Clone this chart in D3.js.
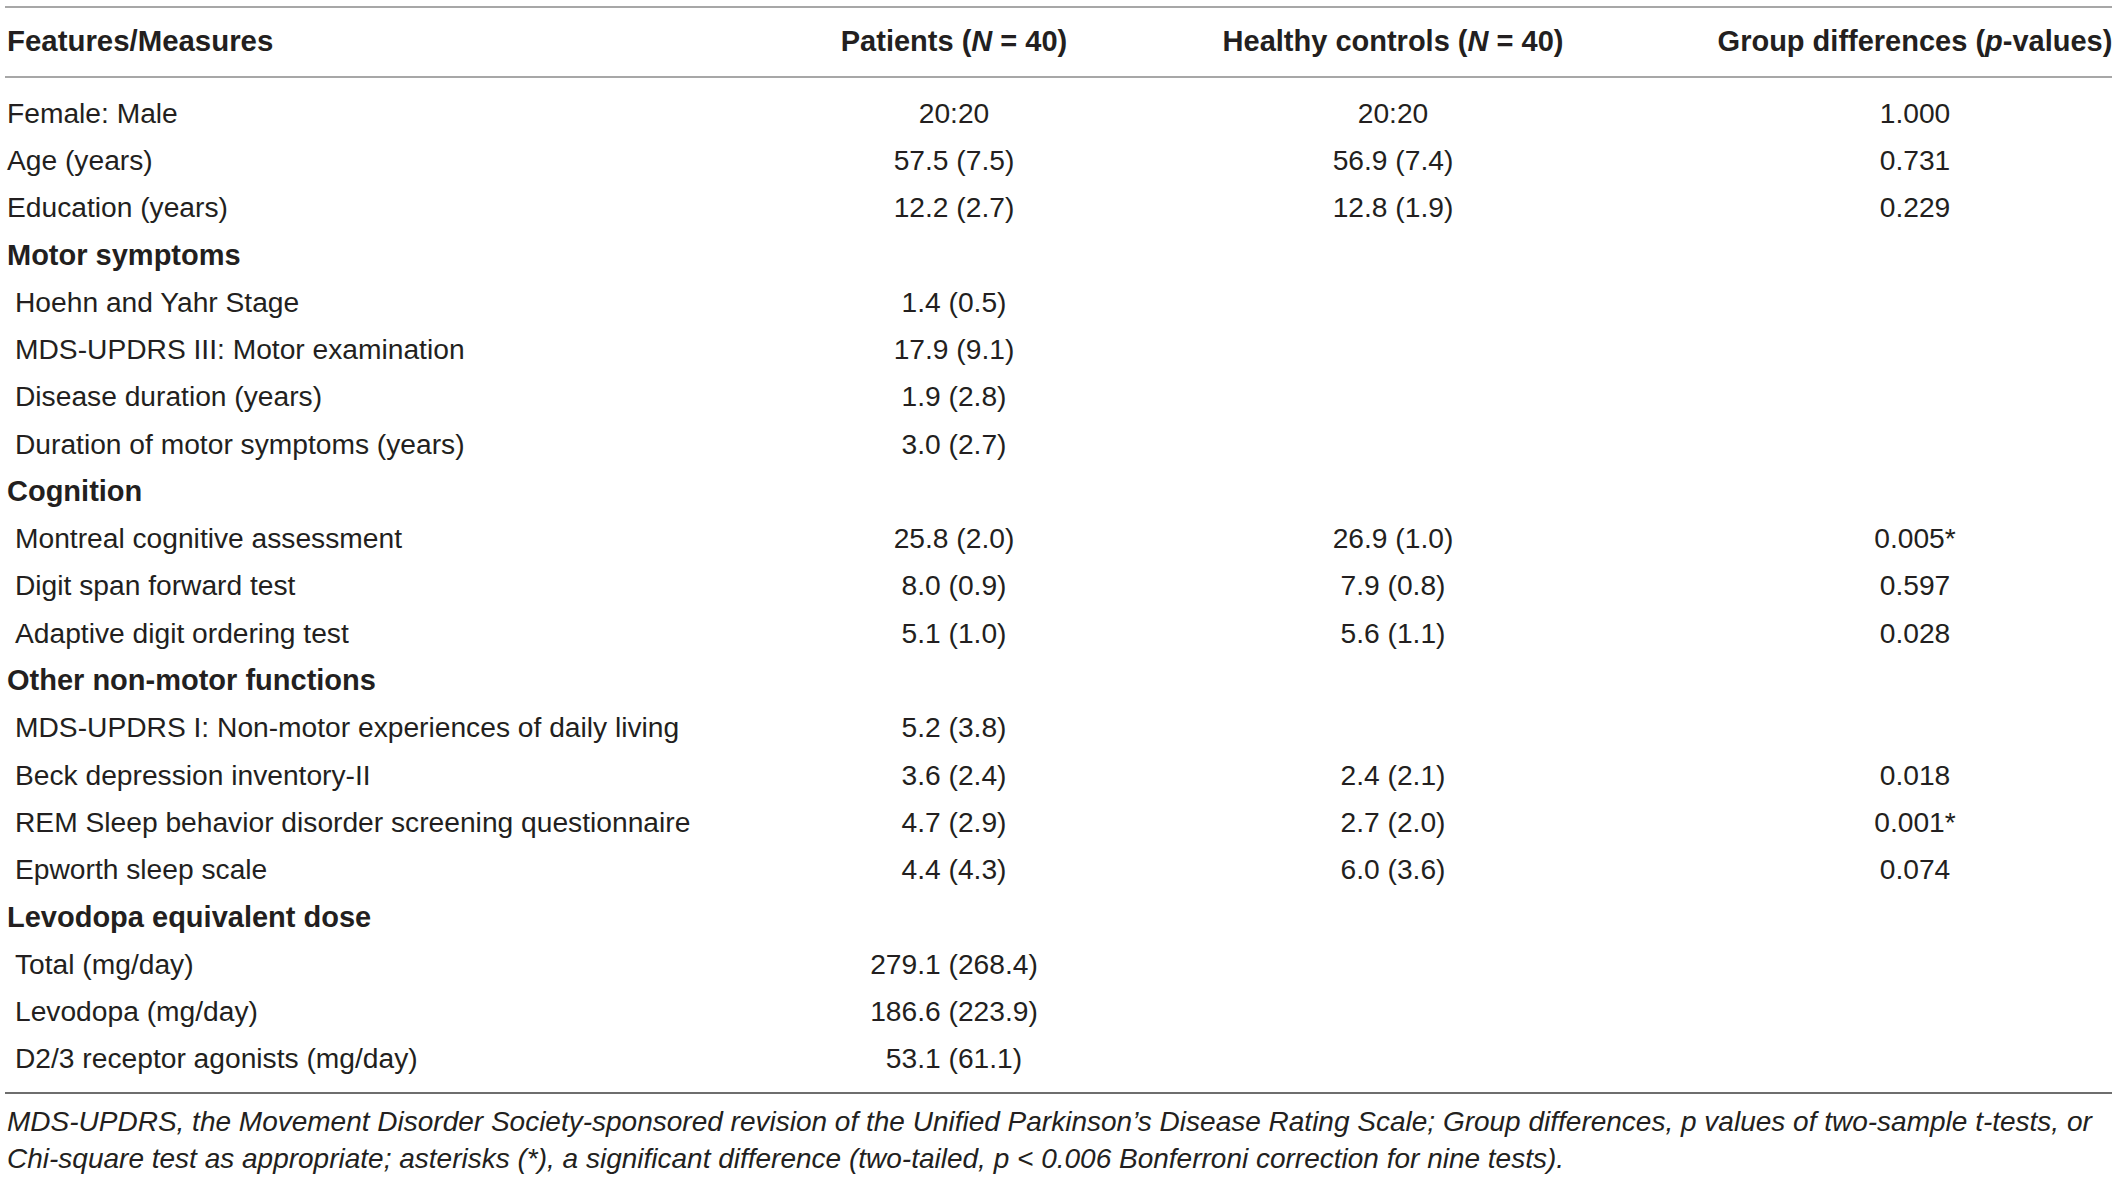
<!DOCTYPE html>
<html>
<head>
	<meta charset="utf-8">
	<script src="https://cdn.jsdelivr.net/npm/d3@7"></script>
	<style>
		body { margin: 0; background: #fff; }
		text { font-family: "Liberation Sans", Arial, sans-serif; fill: #231f20; }
	</style>
</head>
<body>
<div id="table"></div>

<script>

// header cells: [plain part, italic part, tail]
var headerCols = [
  ["Patients (", "N", " = 40)"],
  ["Healthy controls (", "N", " = 40)"],
  ["Group differences (", "p", "-values)"]
];

var measures = [
  "Female: Male", "Age (years)", "Education (years)",
  "Motor symptoms",
  "Hoehn and Yahr Stage", "MDS-UPDRS III: Motor examination", "Disease duration (years)", "Duration of motor symptoms (years)",
  "Cognition",
  "Montreal cognitive assessment", "Digit span forward test", "Adaptive digit ordering test",
  "Other non-motor functions",
  "MDS-UPDRS I: Non-motor experiences of daily living", "Beck depression inventory-II",
  "REM Sleep behavior disorder screening questionnaire", "Epworth sleep scale",
  "Levodopa equivalent dose",
  "Total (mg/day)", "Levodopa (mg/day)", "D2/3 receptor agonists (mg/day)"
];

// 0 = plain row, 1 = section title, 2 = indented sub row
var rowKind = [0,0,0, 1, 2,2,2,2, 1, 2,2,2, 1, 2,2,2,2, 1, 2,2,2];

var patients = ["20:20","57.5 (7.5)","12.2 (2.7)", "",
  "1.4 (0.5)","17.9 (9.1)","1.9 (2.8)","3.0 (2.7)", "",
  "25.8 (2.0)","8.0 (0.9)","5.1 (1.0)", "",
  "5.2 (3.8)","3.6 (2.4)","4.7 (2.9)","4.4 (4.3)", "",
  "279.1 (268.4)","186.6 (223.9)","53.1 (61.1)"];

var controls = ["20:20","56.9 (7.4)","12.8 (1.9)", "",
  "","","","", "",
  "26.9 (1.0)","7.9 (0.8)","5.6 (1.1)", "",
  "","2.4 (2.1)","2.7 (2.0)","6.0 (3.6)", "",
  "","",""];

var pvalues = ["1.000","0.731","0.229", "",
  "","","","", "",
  "0.005*","0.597","0.028", "",
  "","0.018","0.001*","0.074", "",
  "","",""];

var footnote = [
  "MDS-UPDRS, the Movement Disorder Society-sponsored revision of the Unified Parkinson\u2019s Disease Rating Scale; Group differences, p values of two-sample t-tests, or",
  "Chi-square test as appropriate; asterisks (*), a significant difference (two-tailed, p < 0.006 Bonferroni correction for nine tests)."
];

var width = 2119, height = 1180;

var svg = d3.select("#table")
  .append("svg")
  .attr("width", width)
  .attr("height", height);

var colX = d3.scaleOrdinal()
  .domain([0, 1, 2])
  .range([954, 1393, 1915]);

var rowY = d3.scaleBand()
  .domain(d3.range(measures.length))
  .range([89, 1082]);

var headY = 41;
var x0 = 7, xIndent = 15, xEnd = 2112;
var bodySize = "28.2px", boldSize = "29.4px";

// rules
svg.selectAll(".rule")
  .data([{y: 7, c: "#a7a7a7"}, {y: 77, c: "#a7a7a7"}, {y: 1093, c: "#6e6e6e"}])
  .enter()
  .append("line")
  .attr("class", "rule")
  .attr("x1", 5)
  .attr("x2", xEnd)
  .attr("y1", function(d) { return d.y; })
  .attr("y2", function(d) { return d.y; })
  .style("stroke", function(d) { return d.c; })
  .style("stroke-width", 2);

// header
svg.append("text")
  .attr("x", x0)
  .attr("y", headY)
  .attr("dy", "0.35em")
  .style("font-size", boldSize)
  .style("font-weight", "bold")
  .text("Features/Measures");

var head = svg.selectAll(".head")
  .data(headerCols)
  .enter()
  .append("text")
  .attr("class", "head")
  .attr("x", function(d, i) { return colX(i); })
  .attr("y", headY)
  .attr("dy", "0.35em")
  .attr("text-anchor", "middle")
  .style("font-size", "29px")
  .style("font-weight", "bold");

head.append("tspan").text(function(d) { return d[0]; });
head.append("tspan").style("font-style", "italic").text(function(d) { return d[1]; });
head.append("tspan").text(function(d) { return d[2]; });

// first column
svg.selectAll(".measure")
  .data(measures)
  .enter()
  .append("text")
  .attr("class", "measure")
  .attr("x", function(d, i) { return rowKind[i] == 2 ? xIndent : x0; })
  .attr("y", function(d, i) { return rowY(i) + rowY.bandwidth() / 2; })
  .attr("dy", "0.35em")
  .style("font-size", function(d, i) { return rowKind[i] == 1 ? "29px" : bodySize; })
  .style("font-weight", function(d, i) { return rowKind[i] == 1 ? "bold" : "normal"; })
  .text(function(d) { return d; });

// value columns
[patients, controls, pvalues].forEach(function(col, c) {
  svg.selectAll(".val" + c)
    .data(col)
    .enter()
    .append("text")
    .attr("class", "val" + c)
    .attr("x", colX(c))
    .attr("y", function(d, i) { return rowY(i) + rowY.bandwidth() / 2; })
    .attr("dy", "0.35em")
    .attr("text-anchor", "middle")
    .style("font-size", bodySize)
    .text(function(d) { return d; });
});

// footnote
svg.selectAll(".foot")
  .data(footnote)
  .enter()
  .append("text")
  .attr("class", "foot")
  .attr("x", x0)
  .attr("y", function(d, i) { return 1131 + i * 36.5; })
  .style("font-size", "28px")
  .style("font-style", "italic")
  .text(function(d) { return d; });

</script>
</body>
</html>
